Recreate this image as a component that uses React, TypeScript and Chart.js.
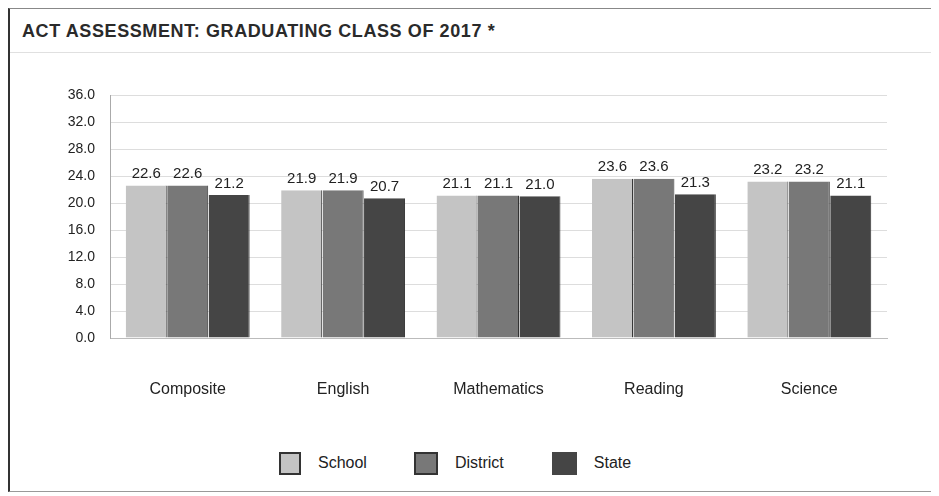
import React, { useEffect, useRef } from "react";
import { Chart, registerables } from "chart.js";

Chart.register(...registerables);

const title = "ACT ASSESSMENT: GRADUATING CLASS OF 2017 *";
const categories = ["Composite", "English", "Mathematics", "Reading", "Science"];
const seriesNames = ["School", "District", "State"];
const schoolValues = [22.6, 21.9, 21.1, 23.6, 23.2];
const districtValues = [22.6, 21.9, 21.1, 23.6, 23.2];
const stateValues = [21.2, 20.7, 21.0, 21.3, 21.1];
const seriesColors = ["#c4c4c4", "#787878", "#454545"];
const yTicks = [0, 4, 8, 12, 16, 20, 24, 28, 32, 36];

const FONT = "'Liberation Sans', Arial, sans-serif";

const valueLabels = {
  id: "valueLabels",
  afterDatasetsDraw(chart: any) {
    const ctx = chart.ctx;
    ctx.save();
    ctx.font = `15px ${FONT}`;
    ctx.fillStyle = "#222222";
    ctx.textAlign = "center";
    ctx.textBaseline = "bottom";
    chart.data.datasets.forEach((ds: any, i: number) => {
      const meta = chart.getDatasetMeta(i);
      meta.data.forEach((bar: any, j: number) => {
        ctx.fillText(Number(ds.data[j]).toFixed(1), bar.x, bar.y - 4);
      });
    });
    ctx.restore();
  },
};

export default function App() {
  const ref = useRef<HTMLCanvasElement | null>(null);
  useEffect(() => {
    if (!ref.current) return;
    const values = [schoolValues, districtValues, stateValues];
    const chart = new Chart(ref.current, {
      type: "bar",
      data: {
        labels: categories,
        datasets: seriesNames.map((name, i) => ({
          label: name,
          data: values[i],
          backgroundColor: seriesColors[i],
          borderColor: "#333333",
          borderWidth: { top: 0, left: 0, right: 1, bottom: 0 },
          categoryPercentage: 0.8,
          barPercentage: 0.99,
        })),
      },
      options: {
        animation: false,
        responsive: false,
        maintainAspectRatio: false,
        layout: { padding: { top: 42, right: 45, left: 0, bottom: 0 } },
        plugins: {
          legend: { display: false },
          tooltip: { enabled: false },
          title: { display: false },
        },
        scales: {
          x: {
            grid: { display: false },
            border: { display: true, color: "#bbbbbb" },
            ticks: {
              color: "#222222",
              font: { family: FONT, size: 16 },
              padding: 34,
            },
            afterFit(scale: any) {
              scale.height = 105;
            },
          },
          y: {
            min: 0,
            max: 36,
            afterBuildTicks(scale: any) {
              scale.ticks = yTicks.map((v) => ({ value: v }));
            },
            grid: { color: "#dddddd", drawTicks: false },
            border: { display: true, color: "#aaaaaa" },
            ticks: {
              color: "#222222",
              font: { family: FONT, size: 14 },
              padding: 15,
              callback: (v: any) => Number(v).toFixed(1),
            },
            afterFit(scale: any) {
              scale.width = 100;
            },
          },
        },
      },
      plugins: [valueLabels],
    });
    return () => chart.destroy();
  }, []);

  const boxBorders = ["#333", "#333", "#454545"];
  const boxSizes = [18, 20, 21];
  const gaps = [47, 48, 0];
  return (
    <div
      style={{
        width: 924,
        height: 482,
        borderTop: "1px solid #888",
        borderLeft: "2px solid #333",
        borderRight: "1px solid #999",
        borderBottom: "1px solid #999",
        background: "#fff",
        fontFamily: FONT,
        position: "relative",
      }}
    >
      <div
        style={{
          height: 42,
          borderBottom: "1px solid #e0e0e0",
          paddingLeft: 12,
          paddingTop: 1,
          display: "flex",
          alignItems: "center",
          fontWeight: "bold",
          fontSize: 18,
          letterSpacing: 0.6,
          color: "#2a2a2a",
        }}
      >
        {title}
      </div>
      <canvas ref={ref} width={922} height={390} style={{ display: "block" }} />
      <div
        style={{
          display: "flex",
          alignItems: "center",
          height: 40,
          paddingLeft: 269,
          fontSize: 16,
          color: "#222222",
        }}
      >
        {seriesNames.map((name, i) => (
          <div key={name} style={{ display: "flex", alignItems: "center", marginRight: gaps[i] }}>
            <span
              style={{
                display: "inline-block",
                width: boxSizes[i],
                height: 19,
                background: seriesColors[i],
                border: `2px solid ${boxBorders[i]}`,
                marginRight: 17,
              }}
            />
            <span>{name}</span>
          </div>
        ))}
      </div>
    </div>
  );
}
